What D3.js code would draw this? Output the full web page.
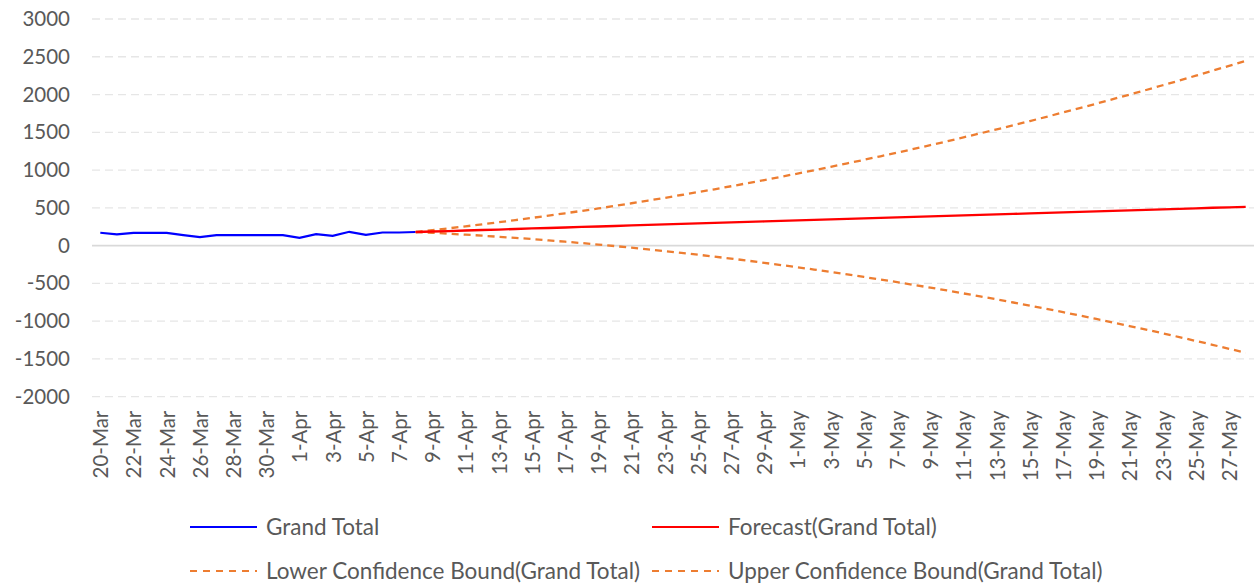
<!DOCTYPE html>
<html lang="en">
<head>
<meta charset="UTF-8" />
<title>Grand Total forecast</title>
<style>
  body { margin: 0; background: #fff; }
  text { font-family: Lato, "Open Sans", sans-serif; fill: #595959; }
</style>
</head>
<body>
<script src="https://cdn.jsdelivr.net/npm/d3@7"></script>
<div id="app"></div>
<script>
// categories (one per day)
const dates = [
  "20-Mar","21-Mar","22-Mar","23-Mar","24-Mar","25-Mar","26-Mar","27-Mar","28-Mar","29-Mar",
  "30-Mar","31-Mar","1-Apr","2-Apr","3-Apr","4-Apr","5-Apr","6-Apr","7-Apr","8-Apr",
  "9-Apr","10-Apr","11-Apr","12-Apr","13-Apr","14-Apr","15-Apr","16-Apr","17-Apr","18-Apr",
  "19-Apr","20-Apr","21-Apr","22-Apr","23-Apr","24-Apr","25-Apr","26-Apr","27-Apr","28-Apr",
  "29-Apr","30-Apr","1-May","2-May","3-May","4-May","5-May","6-May","7-May","8-May",
  "9-May","10-May","11-May","12-May","13-May","14-May","15-May","16-May","17-May","18-May",
  "19-May","20-May","21-May","22-May","23-May","24-May","25-May","26-May","27-May","28-May"
];

// Grand Total (20-Mar .. 8-Apr)
const grandTotal = [170,150,168,168,168,140,113,138,138,140,138,138,104,152,130,183,143,174,174,180];

// forecast series start at 8-Apr
const forecastStart = 19;
const forecast = [180,187,193,200,207,213,220,227,233,240,247,253,260,267,274,280,287,294,300,307,
  314,320,327,334,340,347,354,360,367,374,380,387,394,400,407,414,420,427,434,441,
  447,454,461,467,474,481,487,494,501,507,514];
const upperBound = [180,204,229,255,282,309,338,367,397,428,460,492,526,561,597,632,670,708,746,786,
  827,868,911,954,997,1043,1089,1135,1183,1231,1280,1330,1381,1433,1486,1539,1593,1649,1705,1763,
  1820,1879,1939,1999,2060,2123,2185,2250,2315,2380,2447];
const lowerBound = [180,170,157,145,132,117,102,87,69,52,34,14,-6,-27,-49,-72,-96,-120,-146,-172,
  -199,-228,-257,-286,-317,-349,-381,-415,-449,-483,-520,-556,-593,-633,-672,-711,-753,-795,-837,-881,
  -926,-971,-1017,-1065,-1112,-1161,-1211,-1262,-1313,-1366,-1419];

const yTicks = [-2000,-1500,-1000,-500,0,500,1000,1500,2000,2500,3000];

const w = 1254, h = 586;
const plotL = 92, plotR = 1254, plotT = 19, plotB = 396.7;

const svg = d3.select("#app").append("svg")
  .attr("width", w).attr("height", h);

const x = d3.scalePoint().domain(dates).range([plotL, plotR]).padding(0.5);
const y = d3.scaleLinear().domain([-2000, 3000]).range([plotB, plotT]);

// gridlines
svg.append("g").selectAll("line")
  .data(yTicks.filter(d => d !== 0))
  .enter().append("line")
  .attr("x1", plotL).attr("x2", plotR)
  .attr("y1", d => y(d)).attr("y2", d => y(d))
  .attr("stroke", "#e6e6e6").attr("stroke-width", 1.3)
  .attr("stroke-dasharray", "8,5");

svg.append("line")
  .attr("x1", plotL).attr("x2", plotR)
  .attr("y1", y(0)).attr("y2", y(0))
  .attr("stroke", "#d9d9d9").attr("stroke-width", 1.8);

// y axis
const yAxis = svg.append("g")
  .attr("transform", "translate(" + plotL + ",0)")
  .call(d3.axisLeft(y).tickValues(yTicks).tickSize(0).tickPadding(22).tickFormat(d => String(d)));
yAxis.select(".domain").remove();
yAxis.attr("font-family", null);
yAxis.selectAll("text").style("font-size", "20.5px").attr("fill", "#595959");

// x axis
const xAxis = svg.append("g")
  .attr("transform", "translate(0," + plotB + ")")
  .call(d3.axisBottom(x).tickValues(dates.filter((d, i) => i % 2 === 0)).tickSize(0));
xAxis.select(".domain").remove();
xAxis.attr("font-family", null);
xAxis.selectAll("text")
  .style("font-size", "20.5px").attr("fill", "#595959")
  .attr("transform", "rotate(-90)")
  .attr("text-anchor", "end")
  .attr("x", -14).attr("y", 0).attr("dy", "0.36em");

// lines
const line = d3.line().x(d => x(d.date)).y(d => y(d.value));
const toPts = (arr, start) => arr.map((v, i) => ({ date: dates[start + i], value: v }));

svg.append("path").datum(toPts(grandTotal, 0))
  .attr("d", line).attr("fill", "none")
  .attr("stroke", "#0000ff").attr("stroke-width", 2.2);

svg.append("path").datum(toPts(upperBound, forecastStart))
  .attr("d", line).attr("fill", "none")
  .attr("stroke", "#ed7d31").attr("stroke-width", 2.3).attr("stroke-dasharray", "7,5");

svg.append("path").datum(toPts(lowerBound, forecastStart))
  .attr("d", line).attr("fill", "none")
  .attr("stroke", "#ed7d31").attr("stroke-width", 2.3).attr("stroke-dasharray", "7,5");

svg.append("path").datum(toPts(forecast, forecastStart))
  .attr("d", line).attr("fill", "none")
  .attr("stroke", "#ff0000").attr("stroke-width", 2.3);

// legend
const legendItems = [
  { name: "Grand Total", color: "#0000ff", dash: null, lx: 190, ly: 527 },
  { name: "Forecast(Grand Total)", color: "#ff0000", dash: null, lx: 652, ly: 527 },
  { name: "Lower Confidence Bound(Grand Total)", color: "#ed7d31", dash: "7,6", lx: 190, ly: 571 },
  { name: "Upper Confidence Bound(Grand Total)", color: "#ed7d31", dash: "7,6", lx: 652, ly: 571 }
];
const legend = svg.append("g").selectAll("g").data(legendItems).enter().append("g");
legend.append("line")
  .attr("x1", d => d.lx).attr("x2", d => d.lx + 67)
  .attr("y1", d => d.ly).attr("y2", d => d.ly)
  .attr("stroke", d => d.color).attr("stroke-width", 2.2)
  .attr("stroke-dasharray", d => d.dash);
legend.append("text")
  .attr("x", d => d.lx + 76).attr("y", d => d.ly + 7.5)
  .style("font-size", "22.5px")
  .text(d => d.name);
</script>
</body>
</html>
